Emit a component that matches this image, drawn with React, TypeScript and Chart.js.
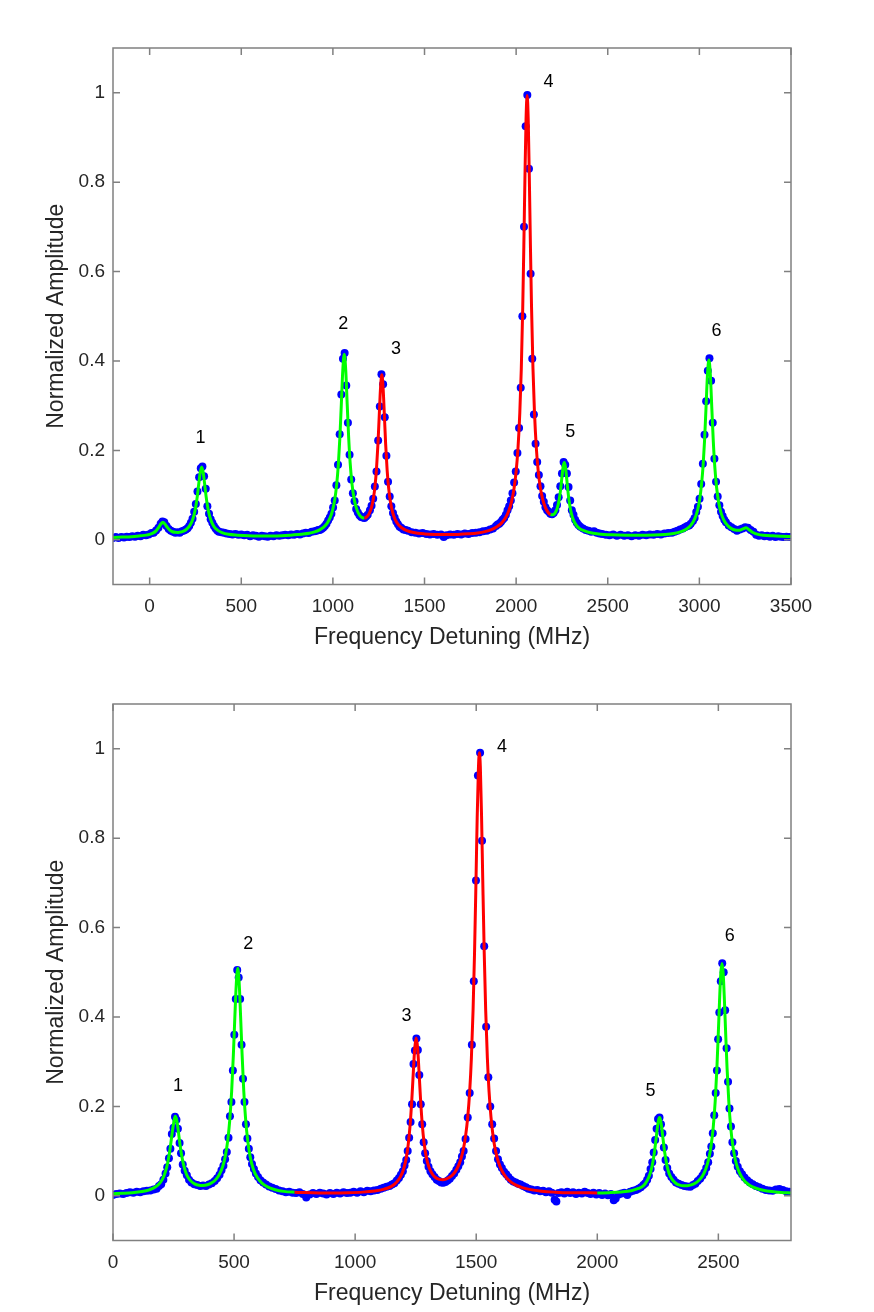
import { useEffect, useRef } from "react";
import { Chart, registerables } from "chart.js";
import type { Plugin } from "chart.js";

Chart.register(...registerables);
Chart.defaults.font.family = "'Liberation Sans', Arial, sans-serif";

type Pt = [number, number];
type PeakLabel = [string, number, number];

const yTicks = [0, 0.2, 0.4, 0.6, 0.8, 1];
const topXTicks = [0, 500, 1000, 1500, 2000, 2500, 3000, 3500];
const bottomXTicks = [0, 500, 1000, 1500, 2000, 2500];

// measured spectrum, upper panel [MHz, amplitude]
const topMeasured: Pt[] = [
  [-200,.004],[-185,.006],[-170,.004],[-155,.006],[-140,.005],[-125,.007],[-110,.006],[-95,.008],[-80,.007],[-65,.009],
  [-50,.008],[-35,.011],[-20,.010],[-5,.012],[10,.015],[22,.016],[35,.021],[48,.027],[60,.036],[70,.041],[80,.039],
  [92,.031],[104,.024],[116,.020],[128,.018],[140,.016],[152,.017],[164,.016],[176,.019],[188,.021],[198,.023],
  [207,.026],[216,.031],[225,.038],[234,.047],[243,.063],[252,.080],[261,.108],[270,.140],[279,.160],[288,.164],
  [297,.142],[306,.114],[315,.075],[324,.058],[333,.046],[342,.038],[351,.031],[360,.025],[369,.021],[378,.018],
  [392,.017],[406,.016],[420,.014],[436,.013],[452,.012],[468,.013],[484,.011],[500,.012],[516,.010],[532,.011],
  [548,.008],[564,.010],[580,.009],[596,.007],[612,.009],[628,.008],[644,.007],[660,.009],[676,.008],[692,.010],
  [708,.009],[724,.010],[740,.011],[756,.010],[772,.012],[788,.011],[804,.013],[820,.012],[836,.014],[852,.016],
  [868,.015],[884,.018],[900,.019],[911,.020],[920,.022],[929,.022],[938,.024],[947,.027],[956,.031],[965,.036],
  [974,.043],[983,.050],[992,.058],[1001,.072],[1010,.088],[1019,.122],[1028,.168],[1037,.236],[1046,.325],
  [1055,.405],[1064,.418],[1073,.345],[1082,.262],[1091,.190],[1100,.135],[1109,.104],[1118,.086],[1127,.069],
  [1136,.061],[1145,.055],[1154,.051],[1163,.050],[1172,.049],[1181,.052],[1190,.056],[1202,.066],[1211,.076],
  [1220,.092],[1229,.119],[1238,.153],[1247,.222],[1256,.298],[1265,.370],[1274,.348],[1283,.274],[1292,.188],
  [1301,.130],[1310,.097],[1319,.075],[1328,.060],[1337,.050],[1346,.041],[1355,.035],[1364,.029],[1373,.027],
  [1385,.023],[1397,.022],[1410,.020],[1430,.017],[1450,.016],[1470,.014],[1490,.015],[1510,.013],[1530,.012],
  [1550,.013],[1570,.011],[1590,.012],[1605,.006],[1620,.010],[1640,.012],[1660,.011],[1680,.013],[1700,.012],
  [1720,.014],[1740,.013],[1760,.015],[1780,.016],[1800,.017],[1820,.019],[1840,.020],[1858,.023],[1874,.025],
  [1890,.031],[1899,.034],[1908,.036],[1917,.040],[1926,.045],[1935,.049],[1944,.056],[1953,.066],[1962,.075],
  [1971,.088],[1980,.104],[1989,.128],[1998,.153],[2007,.194],[2016,.250],[2025,.340],[2034,.500],[2043,.700],
  [2052,.925],[2061,.995],[2070,.830],[2079,.595],[2088,.405],[2097,.280],[2106,.215],[2115,.174],[2124,.145],
  [2133,.120],[2142,.098],[2151,.085],[2160,.073],[2169,.066],[2178,.063],[2187,.058],[2196,.057],[2205,.060],
  [2214,.066],[2223,.078],[2232,.095],[2241,.120],[2250,.148],[2259,.174],[2268,.168],[2277,.148],[2286,.118],
  [2295,.088],[2304,.066],[2313,.056],[2322,.045],[2331,.038],[2340,.033],[2350,.029],[2365,.025],[2380,.022],
  [2395,.020],[2410,.018],[2425,.019],[2440,.016],[2455,.014],[2470,.013],[2490,.011],[2510,.010],[2530,.012],
  [2550,.009],[2570,.011],[2590,.009],[2610,.010],[2630,.008],[2650,.010],[2670,.009],[2690,.011],[2710,.010],
  [2730,.012],[2750,.011],[2770,.013],[2790,.012],[2810,.014],[2830,.015],[2850,.016],[2865,.018],[2880,.020],
  [2895,.023],[2910,.025],[2922,.028],[2934,.031],[2944,.032],[2953,.036],[2965,.042],[2974,.049],[2983,.062],
  [2992,.074],[3001,.092],[3010,.125],[3019,.170],[3028,.235],[3037,.310],[3046,.378],[3055,.406],[3064,.356],
  [3073,.262],[3082,.181],[3091,.130],[3100,.097],[3109,.077],[3118,.063],[3127,.053],[3136,.045],[3145,.039],
  [3160,.032],[3175,.028],[3190,.024],[3205,.020],[3220,.023],[3235,.025],[3250,.028],[3265,.027],[3280,.022],
  [3295,.018],[3310,.011],[3325,.009],[3340,.010],[3355,.008],[3370,.009],[3385,.007],[3400,.009],[3415,.006],
  [3430,.008],[3445,.007],[3460,.006],[3475,.007],[3490,.006],[3500,.006],
];

// fitted curve, upper panel
const topFit: Pt[] = [
  [-200,.005],[-150,.006],[-100,.007],[-50,.009],[-20,.0104],[0,.0121],[20,.0155],[35,.020],[50,.028],[62,.0357],
  [72,.039],[82,.036],[95,.0286],[110,.0215],[125,.018],[140,.0166],[155,.0165],[170,.0175],[185,.0195],[200,.023],
  [215,.0293],[230,.040],[242,.055],[252,.075],[260,.097],[268,.125],[276,.151],[284,.163],[292,.151],[300,.125],
  [308,.097],[316,.075],[326,.055],[338,.040],[352,.029],[370,.0215],[395,.016],[430,.0122],[480,.0104],[540,.0091],
  [600,.0087],[660,.0087],[720,.0091],[780,.0108],[830,.0125],[870,.0145],[900,.0176],[925,.0217],[950,.0285],
  [970,.038],[985,.0495],[998,.066],[1010,.0895],[1020,.121],[1030,.170],[1038,.228],[1046,.303],[1054,.379],
  [1062,.415],[1070,.380],[1078,.304],[1086,.230],[1094,.173],[1104,.1255],[1116,.091],[1130,.0686],[1145,.0554],
  [1160,.0497],[1172,.0487],[1185,.0513],[1198,.0586],[1210,.0714],[1220,.0902],[1230,.1205],[1238,.159],
  [1246,.215],[1253,.2785],[1260,.340],[1267,.369],[1274,.340],[1281,.278],[1288,.2135],[1296,.156],[1304,.117],
  [1314,.085],[1326,.0614],[1340,.0453],[1356,.0346],[1375,.027],[1400,.021],[1440,.0163],[1500,.0132],
  [1560,.0119],[1620,.0116],[1680,.012],[1740,.0133],[1790,.0152],[1830,.0182],[1865,.0226],[1895,.0293],
  [1920,.0373],[1942,.0492],[1960,.065],[1975,.0854],[1988,.113],[2000,.153],[2010,.204],[2020,.284],[2028,.380],
  [2036,.519],[2042,.656],[2048,.808],[2054,.939],[2060,.994],[2066,.940],[2072,.809],[2078,.6575],[2084,.521],
  [2092,.382],[2100,.286],[2110,.207],[2120,.156],[2132,.117],[2145,.0905],[2160,.0718],[2175,.061],[2188,.0563],
  [2200,.0558],[2212,.0596],[2224,.0702],[2234,.0876],[2242,.110],[2250,.140],[2257,.165],[2263,.173],[2269,.163],
  [2276,.1365],[2284,.104],[2292,.079],[2302,.058],[2314,.043],[2328,.0327],[2345,.0255],[2370,.0203],[2400,.0164],
  [2450,.0132],[2520,.0111],[2600,.0102],[2680,.0101],[2750,.0107],[2810,.0119],[2860,.0141],[2900,.0181],
  [2930,.024],[2955,.0333],[2975,.0472],[2990,.066],[3002,.0912],[3012,.125],[3020,.164],[3028,.220],[3036,.293],
  [3044,.368],[3052,.402],[3060,.368],[3068,.2935],[3076,.220],[3084,.164],[3094,.117],[3106,.082],[3120,.058],
  [3136,.042],[3155,.0314],[3175,.025],[3195,.0218],[3215,.0211],[3235,.0238],[3255,.0267],[3275,.0212],
  [3295,.0157],[3320,.0122],[3350,.0103],[3400,.0089],[3450,.008],[3500,.0073],
];

// part of the fit drawn in red (peaks 3 and 4)
const topRedSpan = [1172, 2188];

const topPeakLabels: PeakLabel[] = [
  ["1", 278, 0.228], ["2", 1057, 0.482], ["3", 1345, 0.427],
  ["4", 2176, 1.025], ["5", 2296, 0.24], ["6", 3094, 0.466],
];

// measured spectrum, lower panel
const bottomMeasured: Pt[] = [
  [0,.002],[14,.004],[28,.005],[42,.004],[56,.006],[70,.008],[84,.007],[98,.009],[112,.008],[126,.010],[140,.011],
  [154,.012],[168,.014],[180,.016],[190,.022],[199,.026],[208,.036],[217,.050],[224,.064],[231,.084],[237,.105],
  [243,.138],[250,.152],[256,.177],[262,.170],[268,.150],[275,.118],[281,.095],[288,.070],[296,.056],[305,.046],
  [314,.036],[324,.030],[336,.026],[348,.024],[360,.022],[372,.023],[384,.022],[396,.025],[408,.028],[420,.033],
  [430,.039],[440,.047],[448,.057],[456,.067],[463,.082],[470,.098],[477,.130],[483,.178],[489,.210],[495,.280],
  [501,.360],[507,.440],[513,.505],[519,.488],[525,.440],[531,.338],[537,.262],[543,.210],[549,.160],[555,.128],
  [561,.105],[567,.086],[574,.071],[582,.060],[590,.050],[599,.042],[609,.035],[620,.030],[632,.025],[645,.021],
  [658,.018],[672,.015],[686,.012],[700,.010],[714,.008],[728,.009],[742,.007],[756,.006],[770,.008],[784,.004],
  [798,-.004],[812,.003],[826,.006],[840,.004],[854,.007],[868,.005],[882,.003],[896,.006],[910,.004],[924,.007],
  [938,.005],[952,.008],[966,.006],[980,.007],[994,.009],[1008,.007],[1022,.010],[1036,.008],[1050,.011],
  [1064,.010],[1078,.012],[1092,.013],[1106,.016],[1118,.018],[1130,.020],[1142,.022],[1152,.025],[1162,.028],
  [1172,.034],[1181,.040],[1189,.047],[1197,.055],[1204,.068],[1211,.080],[1217,.100],[1223,.130],[1229,.165],
  [1235,.205],[1241,.295],[1247,.325],[1253,.352],[1259,.326],[1265,.270],[1271,.205],[1277,.160],[1283,.120],
  [1289,.095],[1296,.078],[1303,.065],[1311,.055],[1319,.048],[1328,.042],[1337,.036],[1346,.033],[1355,.030],
  [1364,.029],[1373,.031],[1382,.034],[1391,.038],[1400,.044],[1409,.050],[1418,.058],[1426,.066],[1434,.075],
  [1441,.088],[1448,.100],[1456,.127],[1465,.175],[1473,.230],[1482,.338],[1490,.480],[1499,.705],[1507,.940],
  [1516,.991],[1524,.794],[1533,.558],[1541,.378],[1550,.265],[1558,.200],[1566,.160],[1574,.128],[1582,.100],
  [1590,.082],[1598,.070],[1606,.062],[1615,.054],[1624,.048],[1633,.042],[1643,.036],[1653,.032],[1663,.030],
  [1673,.027],[1683,.025],[1694,.022],[1705,.019],[1716,.016],[1728,.014],[1740,.012],[1752,.013],[1764,.010],
  [1776,.011],[1788,.008],[1800,.010],[1812,.007],[1824,-.009],[1831,-.013],[1840,.006],[1852,.008],[1864,.005],
  [1876,.009],[1888,.006],[1900,.008],[1912,.004],[1924,.007],[1936,.005],[1948,.009],[1960,.006],[1972,.004],
  [1984,.007],[1996,.003],[2008,.006],[2020,.002],[2032,.005],[2044,.001],[2056,.004],[2068,-.010],[2076,-.006],
  [2088,.003],[2100,.005],[2112,.007],[2124,.002],[2136,.009],[2148,.011],[2160,.013],[2170,.016],[2180,.019],
  [2190,.024],[2198,.028],[2206,.036],[2213,.045],[2220,.060],[2227,.075],[2233,.097],[2239,.125],[2245,.150],
  [2251,.172],[2257,.175],[2263,.160],[2269,.140],[2275,.108],[2282,.080],[2289,.062],[2297,.050],[2306,.042],
  [2315,.036],[2325,.030],[2336,.027],[2348,.024],[2360,.022],[2372,.021],[2384,.020],[2395,.024],[2405,.027],
  [2415,.033],[2425,.038],[2434,.045],[2442,.052],[2450,.062],[2458,.075],[2465,.094],[2471,.110],[2477,.140],
  [2483,.180],[2489,.230],[2494,.280],[2499,.350],[2504,.410],[2510,.480],[2516,.520],[2522,.500],[2528,.415],
  [2534,.330],[2540,.255],[2546,.195],[2552,.155],[2558,.120],[2565,.095],[2572,.078],[2580,.065],[2589,.055],
  [2598,.048],[2608,.041],[2619,.035],[2630,.030],[2642,.026],[2655,.022],[2668,.019],[2682,.016],[2696,.013],
  [2710,.012],[2724,.011],[2738,.014],[2752,.015],[2766,.013],[2780,.010],[2794,.009],[2800,.008],
];

// fitted curve, lower panel
const bottomFit: Pt[] = [
  [0,.0047],[40,.0056],[80,.0069],[120,.0095],[150,.0134],[175,.0196],[195,.0295],[210,.0438],[222,.0645],
  [232,.092],[240,.1226],[247,.151],[252,.167],[257,.178],[262,.172],[267,.156],[274,.126],[282,.095],[292,.068],
  [304,.047],[319,.0345],[337,.0266],[355,.0234],[372,.023],[390,.0247],[408,.029],[425,.0367],[440,.0485],
  [453,.0655],[464,.089],[474,.1244],[482,.168],[490,.2334],[497,.3143],[503,.397],[509,.472],[515,.509],
  [521,.477],[527,.401],[533,.318],[540,.235],[548,.169],[556,.125],[567,.086],[580,.059],[596,.0407],[615,.0284],
  [640,.0194],[670,.0136],[705,.0099],[750,.0080],[790,.0072],[850,.0065],[910,.0064],[970,.0069],[1030,.0082],
  [1080,.0107],[1120,.0148],[1150,.0211],[1172,.031],[1188,.0434],[1200,.0595],[1210,.0814],[1219,.114],
  [1227,.158],[1234,.2145],[1240,.274],[1246,.329],[1252,.353],[1258,.331],[1264,.276],[1270,.217],[1277,.161],
  [1285,.117],[1294,.086],[1305,.064],[1318,.0493],[1333,.0404],[1348,.0367],[1362,.036],[1375,.0373],
  [1390,.0413],[1405,.0483],[1420,.060],[1434,.078],[1446,.102],[1456,.1335],[1465,.176],[1473,.233],[1480,.307],
  [1487,.415],[1493,.542],[1499,.703],[1504,.845],[1509,.954],[1513,.991],[1517,.96],[1522,.85],[1527,.707],
  [1533,.545],[1539,.417],[1546,.3085],[1553,.2335],[1561,.176],[1570,.132],[1580,.100],[1592,.075],[1606,.0562],
  [1622,.0424],[1640,.0323],[1662,.0245],[1690,.0184],[1725,.0138],[1770,.0104],[1820,.0082],[1880,.0067],
  [1940,.0068],[2000,.0063],[2050,.007],[2100,.0085],[2140,.0112],[2170,.0164],[2190,.0222],[2205,.033],
  [2217,.0476],[2227,.068],[2235,.094],[2242,.124],[2248,.152],[2253,.1696],[2257,.175],[2261,.170],[2266,.1526],
  [2272,.125],[2279,.095],[2287,.0696],[2297,.0494],[2309,.0368],[2324,.0281],[2340,.0238],[2356,.0222],
  [2372,.0225],[2388,.0244],[2404,.0282],[2420,.0348],[2435,.045],[2448,.060],[2460,.082],[2470,.112],[2479,.154],
  [2487,.212],[2494,.286],[2500,.366],[2505,.438],[2510,.4965],[2515,.5196],[2520,.4965],[2525,.4375],[2530,.366],
  [2536,.285],[2543,.212],[2551,.153],[2560,.111],[2570,.0805],[2582,.058],[2595,.043],[2610,.032],[2630,.0232],
  [2655,.0168],[2685,.0125],[2720,.0095],[2760,.0075],[2800,.0063],
];

const bottomRedSpan = [750, 2000];

const bottomPeakLabels: PeakLabel[] = [
  ["1", 268, 0.246], ["2", 559, 0.562], ["3", 1212, 0.403],
  ["4", 1607, 1.004], ["5", 2220, 0.235], ["6", 2547, 0.582],
];

const BLUE = "#0000ff";
const GREEN = "#00ff00";
const RED = "#ff0000";
const AXIS = "#808080";
const TEXT = "#262626";

const CANVAS_W = 874;
const CANVAS_H = 656;

const framePlugin: Plugin<"scatter"> = {
  id: "frame",
  afterDraw(chart) {
    const { ctx, chartArea, scales } = chart;
    const { left, right, top, bottom } = chartArea;
    const tick = 7;
    ctx.save();
    ctx.strokeStyle = AXIS;
    ctx.lineWidth = 1.5;
    ctx.strokeRect(left, top, right - left, bottom - top);
    ctx.beginPath();
    scales.x.ticks.forEach((t) => {
      const px = scales.x.getPixelForValue(t.value);
      ctx.moveTo(px, bottom);
      ctx.lineTo(px, bottom - tick);
      ctx.moveTo(px, top);
      ctx.lineTo(px, top + tick);
    });
    scales.y.ticks.forEach((t) => {
      const py = scales.y.getPixelForValue(t.value);
      ctx.moveTo(left, py);
      ctx.lineTo(left + tick, py);
      ctx.moveTo(right, py);
      ctx.lineTo(right - tick, py);
    });
    ctx.stroke();
    ctx.restore();
  },
};

interface SpectrumPanelProps {
  measured: Pt[];
  fit: Pt[];
  redSpan: number[];
  peaks: PeakLabel[];
  xMin: number;
  xMax: number;
  xTicks: number[];
}

function SpectrumPanel({ measured, fit, redSpan, peaks, xMin, xMax, xTicks }: SpectrumPanelProps) {
  const canvasRef = useRef<HTMLCanvasElement>(null);

  useEffect(() => {
    if (!canvasRef.current) return;
    const ctx = canvasRef.current.getContext("2d");
    if (!ctx) return;

    const peakLabelPlugin: Plugin<"scatter"> = {
      id: "peakLabels",
      afterDatasetsDraw(chart) {
        const c = chart.ctx;
        c.save();
        c.fillStyle = "#000";
        c.font = "18px 'Liberation Sans', Arial, sans-serif";
        c.textAlign = "center";
        c.textBaseline = "middle";
        peaks.forEach(([text, x, y]) => {
          c.fillText(text, chart.scales.x.getPixelForValue(x), chart.scales.y.getPixelForValue(y));
        });
        c.restore();
      },
    };

    const chart = new Chart(ctx, {
      type: "scatter",
      data: {
        datasets: [
          {
            label: "Fit",
            data: fit.map(([x, y]) => ({ x, y })),
            showLine: true,
            borderColor: GREEN,
            borderWidth: 3,
            pointRadius: 0,
            cubicInterpolationMode: "monotone",
            segment: {
              borderColor: (s) =>
                s.p0.parsed.x >= redSpan[0] && s.p0.parsed.x < redSpan[1] ? RED : GREEN,
            },
            order: 0,
          },
          {
            label: "Measured",
            data: measured.map(([x, y]) => ({ x, y })),
            showLine: false,
            pointRadius: 4,
            pointBackgroundColor: BLUE,
            pointBorderWidth: 0,
            order: 1,
          },
        ],
      },
      options: {
        responsive: false,
        animation: false,
        events: [],
        layout: { padding: { left: 0, right: 83, top: 48, bottom: 1.5 } },
        plugins: {
          legend: { display: false },
          tooltip: { enabled: false },
        },
        scales: {
          x: {
            type: "linear",
            min: xMin,
            max: xMax,
            afterBuildTicks: (scale) => {
              scale.ticks = xTicks.map((value) => ({ value }));
            },
            afterFit: (scale) => {
              scale.height = 70;
            },
            grid: { display: false, drawTicks: false },
            border: { display: false },
            ticks: {
              color: TEXT,
              font: { size: 19 },
              padding: 11,
              maxRotation: 0,
              autoSkip: false,
              callback: (value) => String(value),
            },
            title: {
              display: true,
              text: "Frequency Detuning (MHz)",
              color: TEXT,
              font: { size: 23 },
              padding: { top: 0, bottom: 3 },
            },
          },
          y: {
            type: "linear",
            min: -0.1,
            max: 1.1,
            afterBuildTicks: (scale) => {
              scale.ticks = yTicks.map((value) => ({ value }));
            },
            afterFit: (scale) => {
              scale.width = 113;
            },
            grid: { display: false, drawTicks: false },
            border: { display: false },
            ticks: {
              color: TEXT,
              font: { size: 19 },
              padding: 8,
              callback: (value) => String(value),
            },
            title: {
              display: true,
              text: "Normalized Amplitude",
              color: TEXT,
              font: { size: 23 },
              padding: { top: 43, bottom: 0 },
            },
          },
        },
      },
      plugins: [framePlugin, peakLabelPlugin],
    });

    return () => {
      chart.destroy();
    };
  }, [measured, fit, redSpan, peaks, xMin, xMax, xTicks]);

  return <canvas ref={canvasRef} width={CANVAS_W} height={CANVAS_H} style={{ display: "block" }} />;
}

export default function App() {
  return (
    <div style={{ position: "absolute", left: 0, top: 0, width: CANVAS_W, height: 1312, background: "#fff" }}>
      <SpectrumPanel
        measured={topMeasured}
        fit={topFit}
        redSpan={topRedSpan}
        peaks={topPeakLabels}
        xMin={-200}
        xMax={3500}
        xTicks={topXTicks}
      />
      <SpectrumPanel
        measured={bottomMeasured}
        fit={bottomFit}
        redSpan={bottomRedSpan}
        peaks={bottomPeakLabels}
        xMin={0}
        xMax={2800}
        xTicks={bottomXTicks}
      />
    </div>
  );
}
